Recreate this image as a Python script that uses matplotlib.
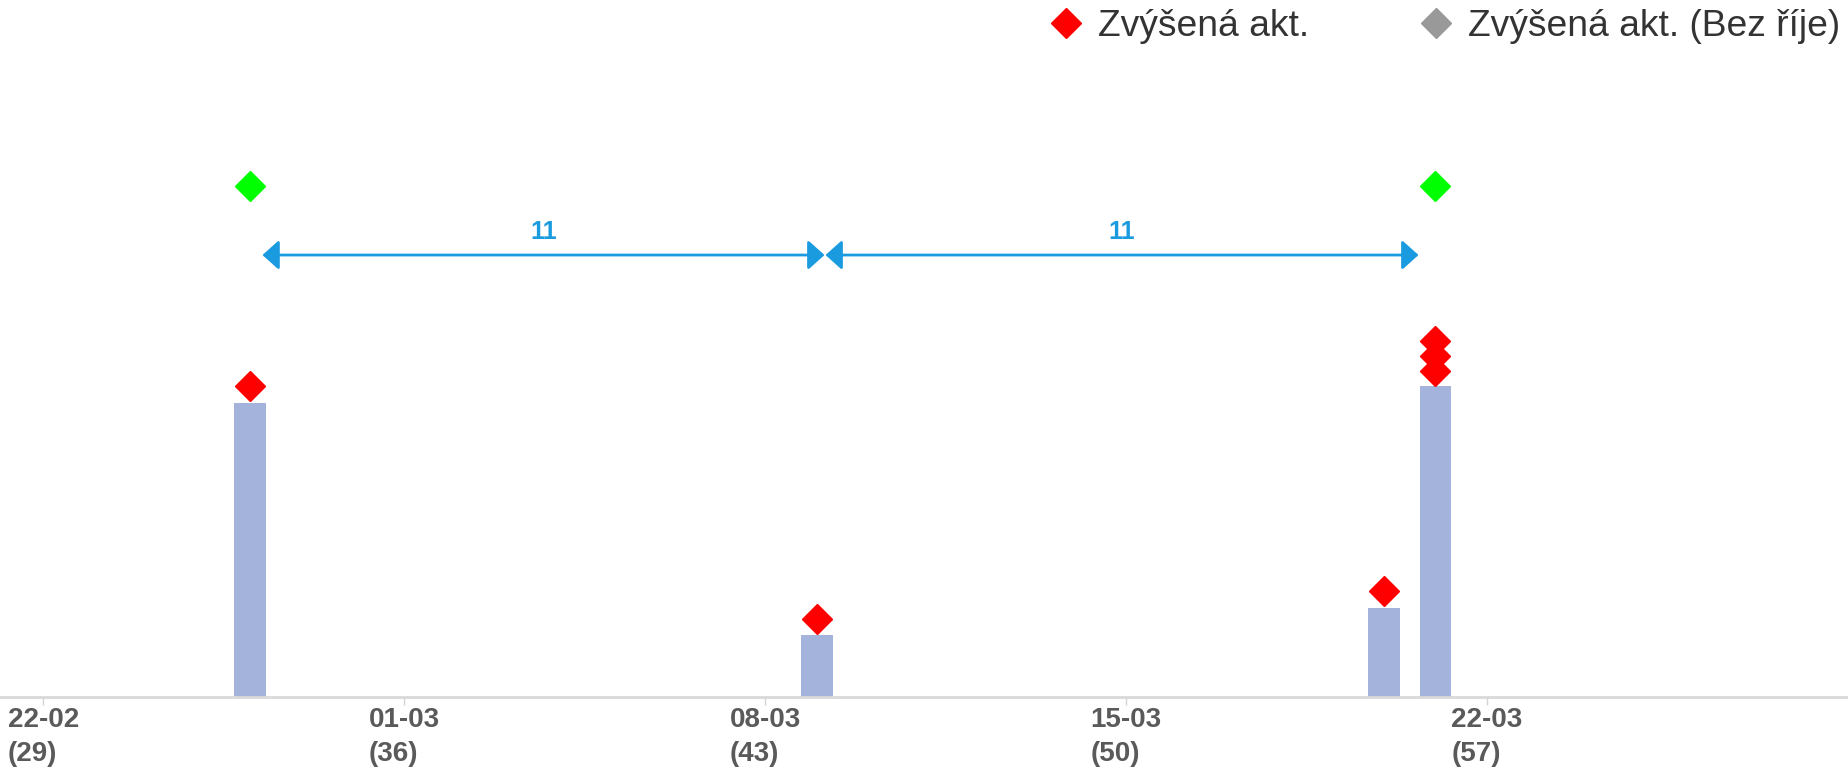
import matplotlib.pyplot as plt
from matplotlib.lines import Line2D

# data: x = day number (22-02 is day 29)
tick_days = [29, 36, 43, 50, 57]
tick_dates = ["22-02", "01-03", "08-03", "15-03", "22-03"]

bar_days = [33, 44, 55, 56]
bar_values = [14.2, 3.0, 4.3, 15.0]

red_days = [33, 44, 55, 56, 56, 56]
red_values = [15.0, 3.77, 5.14, 15.75, 16.47, 17.2]

green_days = [33, 56]
green_values = [24.7, 24.7]

arrow_start = [33.25, 44.17]
arrow_end = [44.15, 55.67]
intervals = [11, 11]
arrow_level = 21.35

legend_labels = ["Zvýšená akt.", "Zvýšená akt. (Bez říje)"]
legend_colors = ["#ff0000", "#999999"]

bar_color = "#a3b3dc"
arrow_color = "#1a9be0"

fig = plt.figure(figsize=(18.48, 7.71), dpi=100)
ax = fig.add_axes([0, 0.096, 1, 0.904])

ax.bar(bar_days, bar_values, width=0.62, color=bar_color, zorder=2)
ax.plot(red_days, red_values, linestyle="none", marker="D", markersize=15.5,
        color="#ff0000", zorder=3)
ax.plot(green_days, green_values, linestyle="none", marker="D", markersize=15.5,
        color="#00ff00", zorder=3)

# intervaly mezi říjemi
for s, e, n in zip(arrow_start, arrow_end, intervals):
    ax.annotate("", xy=(e, arrow_level), xytext=(s, arrow_level),
                arrowprops=dict(arrowstyle="<|-|>,head_length=0.5,head_width=0.45",
                                mutation_scale=20, color=arrow_color, lw=2.0,
                                shrinkA=0, shrinkB=0))
    ax.text((s + e) / 2, arrow_level + 1.1, str(n), color=arrow_color,
            fontsize=18, fontweight="bold", family="Liberation Sans",
            ha="center", va="center")

ax.set_xlim(28.16, 64.0)
ax.set_ylim(0, 33.67)

ax.set_xticks(tick_days)
ax.set_xticklabels([f"{d}\n({n})" for d, n in zip(tick_dates, tick_days)],
                   fontsize=20, fontweight="bold", family="Liberation Sans",
                   color="#5a5a5a", multialignment="left", linespacing=1.4)
ax.tick_params(axis="x", length=6, width=1, color="#d4d4d4", pad=1)
ax.set_yticks([])
for side in ["left", "right", "top"]:
    ax.spines[side].set_visible(False)
ax.spines["bottom"].set_color("#d9d9d9")
ax.spines["bottom"].set_linewidth(2)

handles = [Line2D([], [], linestyle="none", marker="D", markersize=15.5, color=c)
           for c in legend_colors]
fig.legend(handles, legend_labels, loc="upper right", bbox_to_anchor=(1.006, 1.012),
           ncol=2, frameon=False, borderpad=0, handlelength=0.8, handletextpad=0.47,
           columnspacing=3.0, prop={"family": "Liberation Sans", "size": 26.8},
           labelcolor="#333333")

fig.savefig("out.png", dpi=100)
